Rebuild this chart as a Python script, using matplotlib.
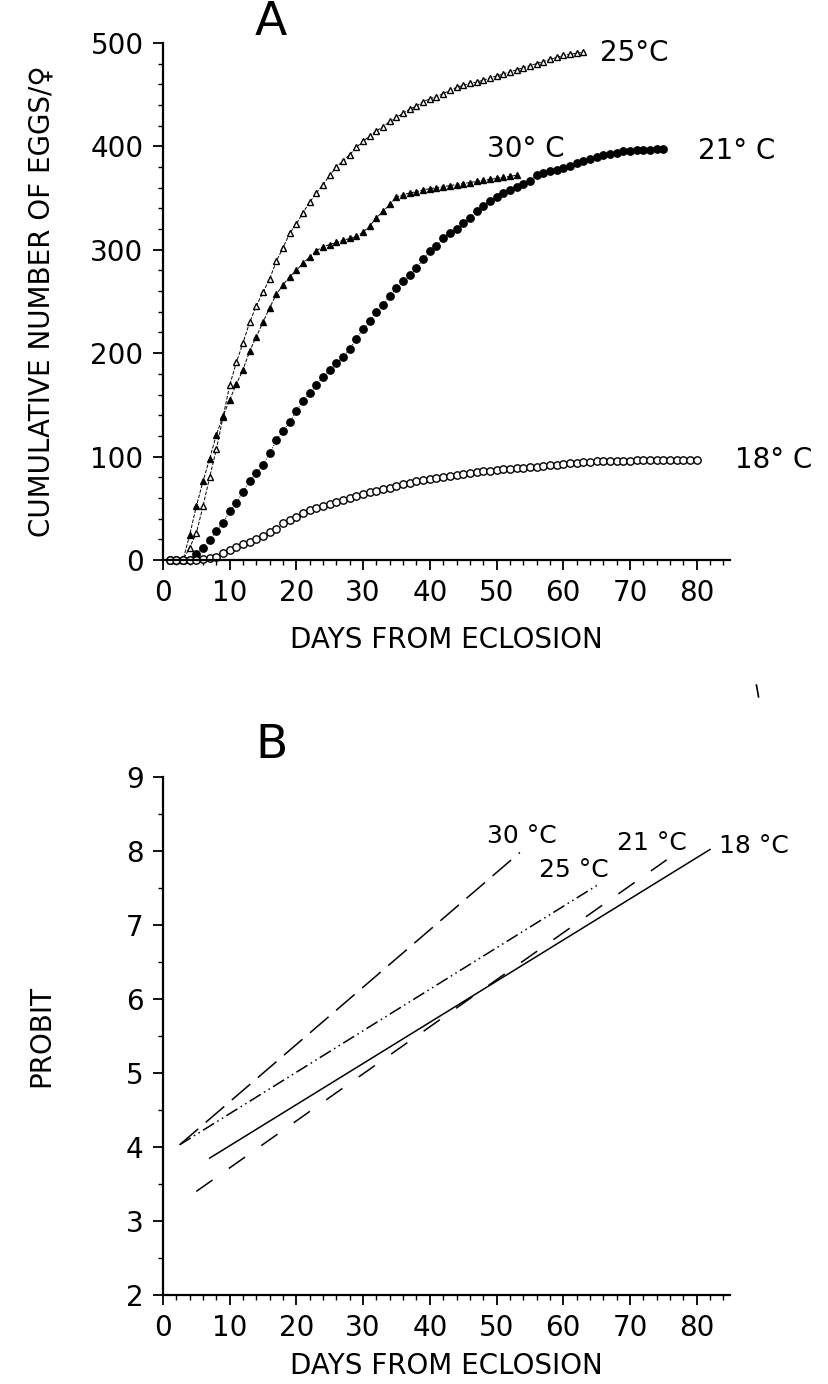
import numpy as np
import matplotlib
matplotlib.use("Agg")
import matplotlib.pyplot as plt
from matplotlib.lines import Line2D
from matplotlib.ticker import MultipleLocator

plt.rcParams['font.family'] = ['DejaVu Sans']

# cumulative eggs per female, one reading per day from eclosion
eggs_25 = [0, 0, 0, 12, 26, 52, 80, 107, 138, 169, 191, 210, 230, 246, 259, 272,
           289, 302, 316, 325, 336, 346, 355, 363, 372, 380, 386, 392, 399, 405,
           410, 415, 419, 424, 428, 432, 436, 439, 443, 446, 448, 451, 454, 457,
           459, 461, 462, 464, 466, 468, 470, 472, 474, 476, 478, 480, 482, 484,
           486, 488, 489, 490, 491]
eggs_30 = [0, 0, 0, 24, 52, 76, 98, 121, 139, 155, 170, 184, 202, 216, 230, 244,
           257, 266, 274, 280, 287, 293, 299, 303, 305, 307, 309, 311, 313, 317,
           323, 331, 337, 344, 351, 353, 355, 356, 358, 359, 360, 361, 362, 363,
           364, 365, 366, 367, 368, 369, 370, 371, 372]
eggs_21 = [0, 0, 0, 0, 6, 12, 19, 28, 36, 47, 55, 66, 76, 84, 92, 103, 116, 125,
           133, 144, 154, 161, 169, 177, 184, 190, 196, 204, 214, 223, 231, 240,
           247, 255, 263, 270, 276, 282, 291, 299, 304, 311, 316, 320, 326, 331,
           337, 342, 347, 351, 355, 358, 361, 364, 366, 372, 374, 376, 377, 379,
           381, 384, 386, 388, 390, 392, 393, 394, 395, 395, 396, 396, 396, 397,
           397]
eggs_18 = [0, 0, 0, 0, 0, 1, 2, 3, 7, 10, 13, 15, 17, 20, 23, 27, 30, 36, 39, 42,
           45, 48, 50, 52, 54, 56, 58, 60, 62, 64, 66, 67, 69, 70, 72, 73, 74, 76,
           77, 78, 79, 80, 81, 82, 83, 84, 85, 86, 86, 87, 88, 88, 89, 89, 90, 90,
           91, 92, 92, 93, 94, 94, 95, 95, 96, 96, 96, 96, 96, 96, 97, 97, 97, 97,
           97, 97, 97, 97, 97, 97]

# probit regression lines: (first day, probit), (last day, probit)
probit_30 = [(2.5, 4.03), (53.5, 7.98)]
probit_25 = [(2.5, 4.03), (65.5, 7.56)]
probit_21 = [(5, 3.4), (75.5, 7.88)]
probit_18 = [(7, 3.85), (82, 8.02)]

days_tick = [0, 10, 20, 30, 40, 50, 60, 70, 80]

FS = 20

fig = plt.figure(figsize=(8.29, 13.84), dpi=100)
axA = fig.add_axes([0.1966, 0.5954, 0.684, 0.3736])
axB = fig.add_axes([0.1966, 0.0643, 0.684, 0.3743])


def style_axis(ax):
    for side in ('top', 'right'):
        ax.spines[side].set_visible(False)
    for side in ('left', 'bottom'):
        ax.spines[side].set_linewidth(1.6)
    ax.tick_params(which='major', direction='out', length=7, width=1.3,
                   labelsize=FS, pad=7)
    ax.tick_params(which='minor', direction='out', length=3.5, width=1.0)
    ax.set_xlim(0, 85)
    ax.set_xticks(days_tick)
    ax.xaxis.set_minor_locator(MultipleLocator(2))


def days_for(values):
    return np.arange(1, len(values) + 1)


# panel A: cumulative egg production
style_axis(axA)
axA.set_ylim(0, 500)
axA.set_yticks([0, 100, 200, 300, 400, 500])
axA.yaxis.set_minor_locator(MultipleLocator(20))

axA.plot(days_for(eggs_25), eggs_25, ls='--', lw=0.7, color='black',
         marker='^', ms=4.5, mfc='white', mec='black', mew=1.0, clip_on=False)
axA.plot(days_for(eggs_30), eggs_30, ls='--', lw=0.7, color='black',
         marker='^', ms=4.5, mfc='black', mec='black', clip_on=False)
axA.plot(days_for(eggs_21), eggs_21, ls=':', lw=0.7, color='black',
         marker='o', ms=5.3, mfc='black', mec='black', clip_on=False)
axA.plot(days_for(eggs_18), eggs_18, ls=':', lw=0.7, color='black',
         marker='o', ms=5.3, mfc='white', mec='black', mew=1.0, clip_on=False)

axA.text(65.5, 490, '25°C', fontsize=FS, va='center', ha='left')
axA.text(48.5, 397, '30° C', fontsize=FS, va='center', ha='left')
axA.text(80.2, 395, '21° C', fontsize=FS, va='center', ha='left',
         clip_on=False)
axA.text(85.8, 97, '18° C', fontsize=FS, va='center', ha='left',
         clip_on=False)

axA.set_xlabel('DAYS FROM ECLOSION', fontsize=FS)
axA.xaxis.set_label_coords(0.5, -0.128)
axA.set_ylabel('CUMULATIVE NUMBER OF EGGS/\u2640', fontsize=FS)
axA.yaxis.set_label_coords(-0.19, 0.5)
fig.text(0.327, 0.9835, 'A', fontsize=34, ha='center', va='center')

# panel B: probit lines
style_axis(axB)
axB.set_ylim(2, 9)
axB.set_yticks(range(2, 10))
axB.yaxis.set_minor_locator(MultipleLocator(0.5))


def probit_line(ax, ends, **kw):
    xs = [p[0] for p in ends]
    ys = [p[1] for p in ends]
    ax.plot(xs, ys, color='black', lw=1.1, **kw)


probit_line(axB, probit_30, dashes=(16, 6.5))
probit_line(axB, probit_25, dashes=(8.5, 2.5, 1, 2.5, 1, 2.5))
probit_line(axB, probit_21, dashes=(13, 13))
probit_line(axB, probit_18, ls='-')

axB.text(48.5, 8.2, '30 °C', fontsize=18, ha='left', va='center')
axB.text(56.4, 7.74, '25 °C', fontsize=18, ha='left', va='center')
axB.text(68.1, 8.11, '21 °C', fontsize=18, ha='left', va='center')
axB.text(83.4, 8.07, '18 °C', fontsize=18, ha='left', va='center',
         clip_on=False)

axB.set_xlabel('DAYS FROM ECLOSION', fontsize=FS)
axB.xaxis.set_label_coords(0.5, -0.11)
axB.set_ylabel('PROBIT', fontsize=FS)
axB.yaxis.set_label_coords(-0.19, 0.5)
fig.text(0.327, 0.4617, 'B', fontsize=34, ha='center', va='center')

# small stray stroke to the right, between the two panels
fig.add_artist(Line2D([0.9125, 0.9150], [0.5050, 0.4965], color='black',
                      lw=1.2, transform=fig.transFigure))

fig.savefig('out.png', dpi=100, facecolor='white')
